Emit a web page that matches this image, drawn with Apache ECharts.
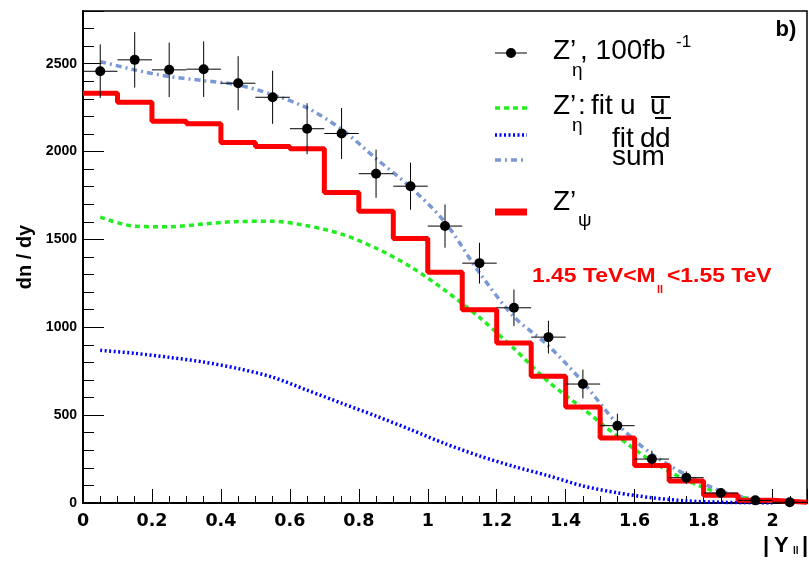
<!DOCTYPE html>
<html><head><meta charset="utf-8">
<script src="https://cdn.jsdelivr.net/npm/echarts@6/dist/echarts.min.js"></script>
<style>html,body{margin:0;padding:0;background:#fff}#c{width:809px;height:561px}</style>
</head><body><div id="c"></div>
<script>
// Z'_psi histogram: lower bin edges (bin width 0.1) and contents
const binEdges = [0.0,0.1,0.2,0.3,0.4,0.5,0.6,0.7,0.8,0.9,1.0,1.1,1.2,1.3,1.4,1.5,1.6,1.7,1.8,1.9,2.0];
const binEnd = 2.1;
const zPsi = [2332,2281,2173,2158,2052,2029,2016,1767,1661,1505,1313,1100,910,721,546,370,214,125,44,15,4];

// Z'_eta pseudo-data points with errors
const ptX = [0.05,0.15,0.25,0.35,0.45,0.55,0.65,0.75,0.85,0.95,1.05,1.15,1.25,1.35,1.45,1.55,1.65,1.75,1.85,1.95,2.05];
const ptY = [2457,2522,2465,2469,2389,2309,2130,2103,1874,1803,1576,1365,1111,944,677,440,250,144,57,15,4];
const ptErr = [153,158,155,158,154,151,145,145,137,134,123,116,104,93,82,68,48,36,25,12,7];
const ptHalfWidth = 0.05;

// fit curves
const curveX = [0.05,0.15,0.25,0.35,0.45,0.55,0.65,0.75,0.85,0.95,1.05,1.15,1.25,1.35,1.45,1.55,1.65,1.75,1.85,1.95,2.0];
const fitUU  = [1627,1575,1572,1588,1602,1603,1578,1530,1450,1345,1210,1056,879,690,537,380,238,130,55,20,8];
const fitDD  = [869,852,829,802,765,716,642,568,495,418,338,268,208,155,97,58,30,12,4,1,0];
const fitSum = [2512,2465,2427,2404,2379,2324,2248,2127,1960,1797,1598,1310,1060,895,688,450,278,160,68,20,10];

// axes
const xMin = 0, xMax = 2.1, xStep = 0.2;
const yMin = 0, yMax = 2800, yStep = 500;

const FONT = '"Liberation Sans", Arial, Helvetica, sans-serif';
const FONT_WIDE = '"DejaVu Sans", "Liberation Sans", sans-serif';
const zip = (a, b) => a.map((v, i) => [v, b[i]]);

const histData = zip(binEdges, zPsi);
histData.push([binEnd, zPsi[zPsi.length - 1]]);

const chart = echarts.init(document.getElementById('c'), null, {renderer: 'canvas'});

function txt(x, y, text, size, opts) {
  opts = opts || {};
  return {
    type: 'text', x: x, y: y, z: 100,
    rotation: opts.rotation || 0,
    scaleX: opts.sx || 1,
    style: {
      text: text, fontSize: size, fontFamily: opts.family || FONT,
      fontWeight: opts.bold ? 'bold' : 'normal',
      fill: opts.color || '#000',
      align: opts.align || 'left', verticalAlign: opts.va || 'middle'
    }
  };
}
function seg(x1, y1, x2, y2, color, w, dash) {
  return {type: 'line', z: 100, shape: {x1, y1, x2, y2},
    style: {stroke: color, lineWidth: w, lineDash: dash || null}};
}

const GREEN = '#22ee22', BLUE = '#0000ff', SUMC = '#7a98d4', RED = '#ff0000';

const option = {
  animation: false,
  backgroundColor: '#fff',
  grid: {left: 83, right: 2, top: 11, bottom: 58, show: true, borderColor: '#000', borderWidth: 1.5, backgroundColor: 'transparent'},
  xAxis: {
    type: 'value', min: xMin, max: xMax, interval: xStep,
    axisLine: {show: true, onZero: false, lineStyle: {color: '#000', width: 2}},
    axisTick: {show: true, inside: true, length: 14, lineStyle: {color: '#000', width: 1}},
    minorTick: {show: true, splitNumber: 4, length: 7, lineStyle: {color: '#000', width: 1}},
    splitLine: {show: false},
    axisLabel: {show: true, showMaxLabel: false, margin: 9, color: '#000', fontSize: 17.5, fontWeight: 'bold', fontFamily: FONT_WIDE,
      formatter: v => (Math.abs(v - Math.round(v)) < 1e-9 ? String(Math.round(v)) : String(+v.toFixed(1)))}
  },
  yAxis: {
    type: 'value', min: yMin, max: yMax, interval: yStep,
    axisLine: {show: true, onZero: false, lineStyle: {color: '#000', width: 2}},
    axisTick: {show: true, inside: true, length: 21, lineStyle: {color: '#000', width: 1}},
    minorTick: {show: true, splitNumber: 5, length: 11, lineStyle: {color: '#000', width: 1}},
    splitLine: {show: false},
    axisLabel: {show: true, showMaxLabel: false, margin: 6, color: '#000', fontSize: 14, fontWeight: 'bold', fontFamily: FONT,
      formatter: v => String(Math.round(v))}
  },
  series: [
    {type: 'line', name: 'fit uu', data: zip(curveX, fitUU), smooth: 0.3, symbol: 'none', z: 2,
      lineStyle: {color: GREEN, width: 3.5, type: [5, 4]}},
    {type: 'line', name: 'fit dd', data: zip(curveX, fitDD), smooth: 0.3, symbol: 'none', z: 2,
      lineStyle: {color: BLUE, width: 3.5, type: [2, 2.5]}},
    {type: 'line', name: 'sum', data: zip(curveX, fitSum), smooth: 0.3, symbol: 'none', z: 2,
      lineStyle: {color: SUMC, width: 3.5, type: [6, 4, 2, 4]}},
    {type: 'line', name: "Z'psi", data: histData, step: 'end', symbol: 'none', z: 3,
      lineStyle: {color: RED, width: 5}},
    {type: 'custom', name: 'data', z: 5,
      data: ptX.map((x, i) => [x, ptY[i], ptErr[i]]),
      renderItem: function (params, api) {
        const x = api.value(0), y = api.value(1), e = api.value(2);
        const c = api.coord([x, y]);
        const l = api.coord([x - ptHalfWidth, y]);
        const r = api.coord([x + ptHalfWidth, y]);
        const t = api.coord([x, y + e]);
        const b = api.coord([x, Math.max(0, y - e)]);
        return {type: 'group', children: [
          {type: 'line', shape: {x1: l[0], y1: c[1], x2: r[0], y2: c[1]}, style: {stroke: '#000', lineWidth: 1}},
          {type: 'line', shape: {x1: c[0], y1: t[1], x2: c[0], y2: b[1]}, style: {stroke: '#000', lineWidth: 1}},
          {type: 'circle', shape: {cx: c[0], cy: c[1], r: 5}, style: {fill: '#000'}}
        ]};
      }
    }
  ],
  graphic: [
    // corner label
    txt(786, 30, 'b)', 22, {bold: true, align: 'center'}),
    // legend symbols
    seg(495, 53, 527, 53, '#000', 1),
    {type: 'circle', z: 100, shape: {cx: 511, cy: 53, r: 5}, style: {fill: '#000'}},
    seg(495, 108, 527, 108, GREEN, 3.5, [5, 4]),
    seg(495, 135, 527, 135, BLUE, 3.5, [2, 2.5]),
    seg(495, 160, 527, 160, SUMC, 3.5, [6, 4, 2, 4]),
    seg(495, 212, 527, 212, RED, 7),
    // legend texts
    txt(553, 51, 'Z’', 28),
    txt(572, 71, 'η', 19),
    txt(580, 51, ', 100fb', 28),
    txt(676, 42, '-1', 17),
    txt(553, 106, 'Z’', 28),
    txt(572, 126, 'η', 19),
    txt(578, 106, ':', 28),
    txt(591, 106, 'fit', 28),
    txt(620, 106, 'u', 28),
    txt(650, 106, 'u', 28),
    seg(651, 97, 670, 97, '#000', 2),
    txt(612, 139, 'fit', 28),
    txt(640, 139, 'd', 28),
    txt(655, 139, 'd', 28),
    seg(655, 118, 671, 118, '#000', 2),
    txt(612, 157, 'sum', 28),
    txt(553, 202, 'Z’', 28),
    txt(578, 221, 'ψ', 19),
    // mass window label
    txt(532, 276, '1.45 TeV<M', 21, {bold: true, color: RED, sx: 1.09}),
    txt(657, 290, 'll', 11, {bold: true, color: RED}),
    txt(667, 276, '<1.55 TeV', 21, {bold: true, color: RED, sx: 1.09}),
    // axis titles
    txt(25, 257, 'dn / dy', 20, {bold: true, align: 'center', rotation: Math.PI / 2}),
    txt(763, 546, '|', 22, {bold: true}),
    txt(774, 546, 'Y', 22, {bold: true}),
    txt(793, 551, 'll', 10, {bold: true}),
    txt(802, 546, '|', 22, {bold: true})
  ]
};
chart.setOption(option);
</script>
</body></html>
